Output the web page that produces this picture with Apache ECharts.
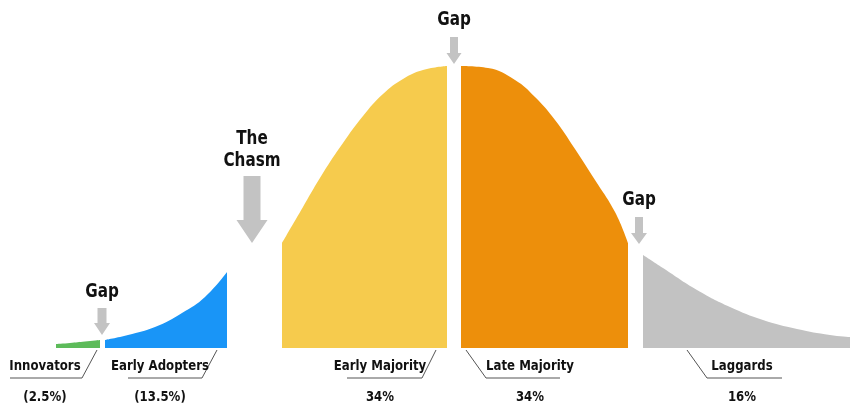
<!DOCTYPE html>
<html>
<head>
<meta charset="utf-8">
<script src="https://cdn.jsdelivr.net/npm/echarts@6/dist/echarts.min.js"></script>
<style>
html,body{margin:0;padding:0;background:#fff;}
#main{width:860px;height:414px;}
</style>
</head>
<body>
<div id="main"></div>
<script>
// ---- data (x: position along adoption curve, y: curve height) ----
const innovatorsCurve = [[56,4],[70,5],[85,6.5],[100,8]];
const earlyAdoptersCurve = [[105,8],[128,13],[155,21],[182,35],[205,51],[227,76]];
const earlyMajorityCurve = [[282,105],[303,141],[323,175],[343,205],[363,232],[383,254],[403,269],[423,278],[447,282]];
const lateMajorityCurve = [[461,282],[488,280],[515,268],[535,251],[555,228],[575,199],[595,168],[615,136],[628,105]];
const laggardsCurve = [[643,93],[663,80],[697,58],[730,41],[763,28],[797,19],[830,13],[850,11]];

const segmentNames = ['Innovators','Early Adopters','Early Majority','Late Majority','Laggards'];
const segmentShares = ['(2.5%)','(13.5%)','34%','34%','16%'];
const gapLabels = ['Gap','The\nChasm','Gap','Gap'];

// ---- layout (annotation geometry in axis units) ----
const labelLayout = [
  {tx:45,  ux0:10,  ux1:82,  sx:97,  side:'right'},
  {tx:160, ux0:128, ux1:202, sx:217, side:'right'},
  {tx:380, ux0:347, ux1:422, sx:436, side:'right'},
  {tx:530, ux0:486, ux1:560, sx:466, side:'left'},
  {tx:742, ux0:707, ux1:782, sx:687, side:'left'}
];
const arrowLayout = [
  {cx:102, shaftW:9,  headW:16, top:40,  headStart:25,  tip:13,  ty:56},
  {cx:252, shaftW:17, headW:31, top:172, headStart:128, tip:105, ty:198},
  {cx:454, shaftW:8,  headW:15, top:311, headStart:295, tip:284, ty:328},
  {cx:639, shaftW:8,  headW:16, top:131, headStart:115, tip:104, ty:148}
];
const colors = {
  innov:'#5dbb5a', adopt:'#1995f7', early:'#f6cb4d', late:'#ed8f0b', lag:'#c2c2c2',
  arrow:'#c3c3c3', text:'#111111', leader:'#555555'
};
const FAMILY = '"DejaVu Sans", sans-serif';
const labelFont = 'bold 14px ' + FAMILY;
const gapFont = 'bold 19px ' + FAMILY;
const LABEL_SQUEEZE = 0.84;
const GAP_SQUEEZE = 0.8;

function areaSeries(name, data, color){
  return {
    name, type:'line', data, smooth:0.45, symbol:'none', silent:true,
    lineStyle:{width:0, color}, areaStyle:{color, opacity:1}, z:2
  };
}

const chart = echarts.init(document.getElementById('main'), null, {renderer:'canvas'});
chart.setOption({
  animation:false,
  backgroundColor:'#ffffff',
  grid:{left:0, right:0, top:0, bottom:0},
  xAxis:{type:'value', min:0, max:860, show:false},
  yAxis:{type:'value', min:-66, max:348, show:false},
  series:[
    areaSeries('Innovators', innovatorsCurve, colors.innov),
    areaSeries('Early Adopters', earlyAdoptersCurve, colors.adopt),
    areaSeries('Early Majority', earlyMajorityCurve, colors.early),
    areaSeries('Late Majority', lateMajorityCurve, colors.late),
    areaSeries('Laggards', laggardsCurve, colors.lag),
    {
      type:'custom', silent:true, z:5,
      data: segmentNames.map((n,i)=>[i]),
      renderItem:function(params, api){
        const i = params.dataIndex;
        const L = labelLayout[i];
        const u0 = api.coord([L.ux0, -30]);
        const u1 = api.coord([L.ux1, -30]);
        const sTop = api.coord([L.sx, -2]);
        const sBot = L.side === 'right' ? u1 : u0;
        const t = api.coord([L.tx, -18]);
        const p = api.coord([L.tx, -49]);
        return {type:'group', children:[
          {type:'polyline', shape:{points:[u0,u1]}, style:{stroke:colors.leader, lineWidth:1, fill:null}},
          {type:'line', shape:{x1:sTop[0], y1:sTop[1], x2:sBot[0], y2:sBot[1]}, style:{stroke:colors.leader, lineWidth:1}},
          {type:'text', x:t[0], y:t[1], scaleX:LABEL_SQUEEZE, style:{text:segmentNames[i], fill:colors.text, font:labelFont, align:'center', verticalAlign:'middle'}},
          {type:'text', x:p[0], y:p[1], scaleX:LABEL_SQUEEZE, style:{text:segmentShares[i], fill:colors.text, font:labelFont, align:'center', verticalAlign:'middle'}}
        ]};
      }
    },
    {
      type:'custom', silent:true, z:5,
      data: gapLabels.map((g,i)=>[i]),
      renderItem:function(params, api){
        const i = params.dataIndex;
        const A = arrowLayout[i];
        const pts = [
          [A.cx - A.shaftW/2, A.top],[A.cx + A.shaftW/2, A.top],
          [A.cx + A.shaftW/2, A.headStart],[A.cx + A.headW/2, A.headStart],
          [A.cx, A.tip],[A.cx - A.headW/2, A.headStart],[A.cx - A.shaftW/2, A.headStart]
        ].map(q=>api.coord(q));
        const t = api.coord([A.cx, A.ty]);
        return {type:'group', children:[
          {type:'polygon', shape:{points:pts}, style:{fill:colors.arrow}},
          {type:'text', x:t[0], y:t[1], scaleX:GAP_SQUEEZE, style:{text:gapLabels[i], fill:colors.text, font:gapFont, align:'center', verticalAlign:'middle', lineHeight:22}}
        ]};
      }
    }
  ]
});
</script>
</body>
</html>
